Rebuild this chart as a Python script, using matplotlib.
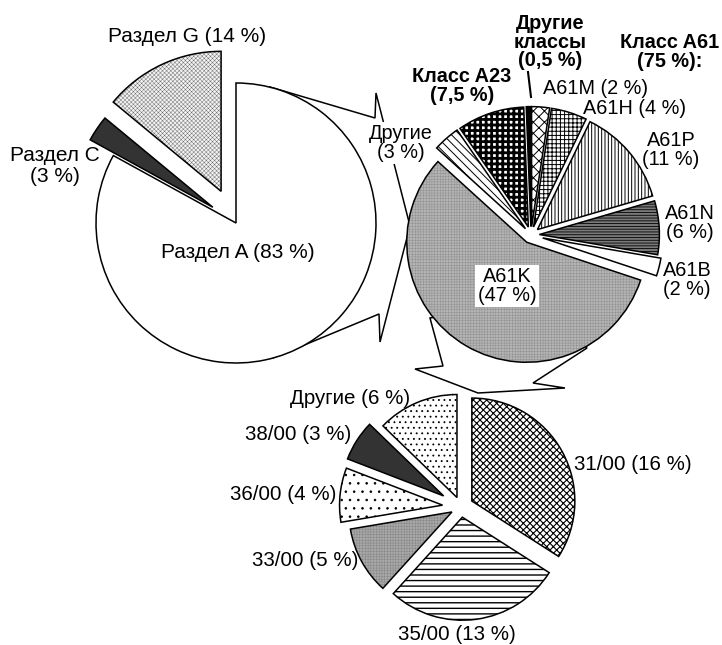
import matplotlib
matplotlib.use("Agg")  # headless
import matplotlib.pyplot as plt
from matplotlib.patches import Wedge, Polygon

plt.rcParams["font.family"] = ["Liberation Sans", "DejaVu Sans"]
plt.rcParams["hatch.linewidth"] = 0.6

W, H = 722, 645  # canvas in pixels, text/pies are placed in pixel coords

# ── Data ─────────────────────────────────────────────────────────────────────
# Pie 1: sections of the classification
sec_labels = ["Раздел G (14 %)", "Раздел C\n(3 %)", "Раздел A (83 %)"]
sec_values = [14, 3, 83]

# Pie 2: section A broken down (shares of all patents)
cls_labels = ["A61B\n(2 %)", "A61N\n(6 %)", "A61P\n(11 %)", "A61H (4 %)",
              "A61M (2 %)", "Другие\nклассы\n(0,5 %)", "Класс A23\n(7,5 %)",
              "Другие\n(3 %)", "A61K\n(47 %)"]
cls_values = [2, 6, 11, 4, 2, 0.5, 7.5, 3, 47]
cls_header = "Класс A61\n(75 %):"

# Pie 3: subclass A61K broken down
sub_labels = ["31/00 (16 %)", "35/00 (13 %)", "33/00 (5 %)", "36/00 (4 %)",
              "38/00 (3 %)", "Другие (6 %)"]
sub_values = [16, 13, 5, 4, 3, 6]

# ── Styles: (facecolor, hatch, hatch colour, hatch linewidth) ───────────────
sec_styles = [("#f2f2f2", "xxxxxxxx", "#666666", 0.3),
              ("#333333", "", "#333333", 0.5),
              ("white", "", "black", 0.5)]
cls_styles = [("white", "", "black", 0.5),            # A61B
              ("#7a7a7a", "------", "black", 0.6),    # A61N
              ("white", "|||||", "black", 0.7),       # A61P
              ("white", "++++", "black", 0.7),        # A61H
              ("white", "xxx", "black", 0.7),         # A61M
              ("black", "", "black", 0.5),            # other classes
              ("white", "+++", "black", 2.0),         # A23
              ("white", "\\\\\\\\", "black", 0.7),    # other A61
              ("#b4b4b4", "++++++", "#8a8a8a", 0.3)]  # A61K
sub_styles = [("white", "xxxxx", "black", 0.8),       # 31/00
              ("white", "---", "black", 1.0),         # 35/00
              ("#a8a8a8", "++++++", "#808080", 0.3),  # 33/00
              ("white", "..", "black", 0.6),          # 36/00
              ("#333333", "", "#333333", 0.5),        # 38/00
              ("white", "...", "black", 0.6)]         # others


def draw_pie(ax, values, center, radius, start, counterclock, explode, styles):
    cx, cy = center[0], H - center[1]
    # pie() offsets wedges by `explode` in data units, so scale by the radius
    wedges, _ = ax.pie(values, radius=radius, center=(cx, cy), startangle=start,
                       counterclock=counterclock,
                       explode=[e * radius for e in explode], frame=True)
    for w, (fc, hatch, hc, hlw) in zip(wedges, styles):
        w.set_facecolor(fc)
        w.set_edgecolor(hc)
        w.set_linewidth(0)
        w.set_hatch(hatch)
        if hasattr(w, "set_hatch_linewidth"):
            w.set_hatch_linewidth(hlw)
        w.set_zorder(2)
        ax.add_patch(Wedge(w.center, w.r, w.theta1, w.theta2, fill=False,
                           ec="black", lw=1.1, zorder=3))
    return wedges


def label(ax, s, x, y, size=14, bold=False, ls=1.0, box=False):
    kw = {}
    if box:
        kw["bbox"] = dict(boxstyle="square,pad=0.12", fc="white", ec="none")
    ax.text(x, H - y, s, ha="center", va="center", multialignment="center",
            fontsize=size, fontweight="bold" if bold else "normal",
            linespacing=ls, zorder=5, **kw)


fig = plt.figure(figsize=(W / 100, H / 100), dpi=100)
ax = fig.add_axes([0, 0, 1, 1])

# connector "arrows" between the pies (drawn behind)
arrow1 = [(240, 200), (270, 87), (375, 118), (376, 93), (410, 226),
          (380, 342), (379, 314), (273, 358)]
arrow2 = [(531, 300), (430, 318), (443, 366), (415, 369), (478, 393),
          (565, 388), (533, 383), (587, 348)]
for pts in (arrow1, arrow2):
    ax.add_patch(Polygon([(x, H - y) for x, y in pts], closed=True, fc="white",
                         ec="black", lw=1.1, zorder=1))

draw_pie(ax, sec_values, (236, 223), 140, 90, True, [0.25, 0.2, 0.0], sec_styles)
draw_pie(ax, cls_values, (531, 235), 120, -18.4, True,
         [0.1, 0.07, 0.07, 0.07, 0.07, 0.07, 0.07, 0.07, 0.07], cls_styles)
draw_pie(ax, sub_values, (461, 507), 103, 90, False,
         [0.12, 0.1, 0.1, 0.18, 0.2, 0.1], sub_styles)

# leader line for "other classes"
ax.plot([528, 531], [H - 72, H - 97], color="black", lw=1.5, zorder=4)

# labels
sec_pos = [(187, 37), (55, 166), (238, 252)]
for s, (x, y) in zip(sec_labels, sec_pos):
    label(ax, s, x, y, size=15, ls=1.1)

cls_pos = [(687, 280), (690, 223), (671, 150), (635, 108), (596, 88),
           (550, 42), (462, 86), (401, 143), (507, 286)]
cls_bold = [False, False, False, False, False, True, True, False, False]
cls_box = [False, False, False, False, False, False, False, True, True]
for s, (x, y), b, bx in zip(cls_labels, cls_pos, cls_bold, cls_box):
    label(ax, s, x, y, size=14.3, bold=b, ls=0.95, box=bx)
label(ax, cls_header, 670, 52, size=14.3, bold=True, ls=0.95)

sub_pos = [(633, 464), (457, 634), (305, 560), (283, 494), (298, 434), (350, 399)]
for s, (x, y) in zip(sub_labels, sub_pos):
    label(ax, s, x, y, size=14.8)

ax.set_xlim(0, W)
ax.set_ylim(0, H)
ax.set_aspect("equal")
ax.axis("off")
fig.savefig("out.png", dpi=100, facecolor="white")
